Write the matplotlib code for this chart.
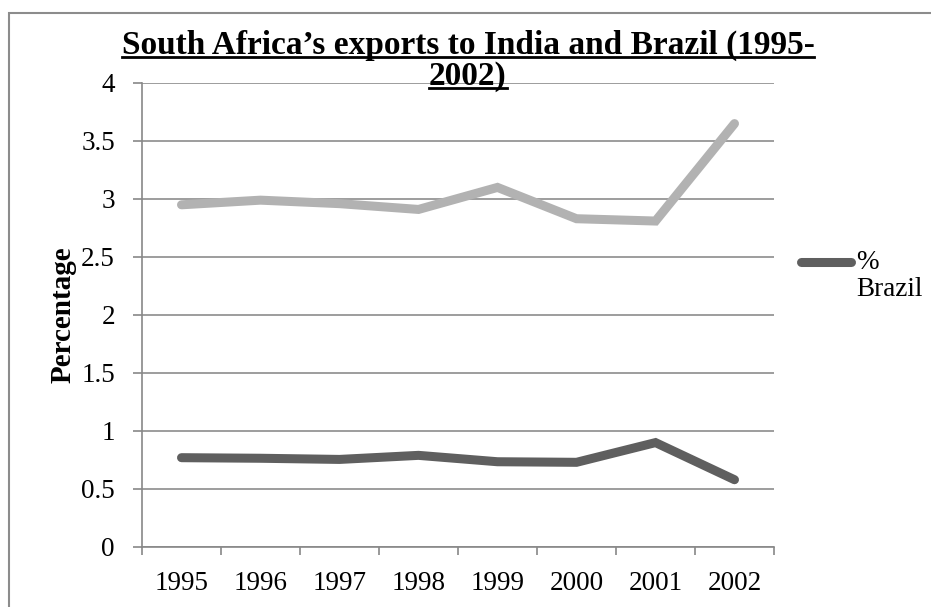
import numpy as np
import matplotlib
matplotlib.use('Agg')
import matplotlib.pyplot as plt
from matplotlib.lines import Line2D
from matplotlib.patches import Rectangle

# data
years = ['1995', '1996', '1997', '1998', '1999', '2000', '2001', '2002']
india = [2.95, 2.99, 2.96, 2.91, 3.10, 2.83, 2.81, 3.65]
brazil = [0.77, 0.765, 0.755, 0.79, 0.735, 0.73, 0.90, 0.58]
yticks = [0, 0.5, 1, 1.5, 2, 2.5, 3, 3.5, 4]

plt.rcParams['font.family'] = ['Liberation Serif', 'DejaVu Serif']

fig = plt.figure(figsize=(9.31, 6.07), dpi=100)
W, H = 931, 607
ax = fig.add_axes([142 / W, 1 - 547 / H, (774 - 142) / W, (547 - 83) / H])

x = np.arange(len(years))
ax.plot(x, india, color='#b2b2b2', lw=6.5, solid_capstyle='round', solid_joinstyle='miter')
ax.plot(x, brazil, color='#5f5f5f', lw=6.5, solid_capstyle='round', solid_joinstyle='miter')

ax.set_xlim(-0.5, len(years) - 0.5)
ax.set_ylim(0, 4)
ax.set_yticks(yticks)
ax.set_yticklabels(['%g' % v for v in yticks])
ax.set_xticks(x)
ax.set_xticklabels(years)
ax.set_xticks(np.arange(len(years) + 1) - 0.5, minor=True)
ax.tick_params(axis='x', which='major', length=0, pad=17, labelsize=19.5)
ax.tick_params(axis='x', which='minor', length=6, direction='out', color='#888888', width=1.2)
ax.tick_params(axis='y', length=6.5, direction='out', color='#888888', width=1.2, pad=13,
               labelsize=19.5)

ax.grid(axis='y', color='#8c8c8c', lw=1.2)
ax.set_axisbelow(True)
for s in ['top', 'right']:
    ax.spines[s].set_visible(False)
for s in ['left', 'bottom']:
    ax.spines[s].set_color('#888888')
    ax.spines[s].set_linewidth(1.2)

fig.text(63 / W, 1 - 315 / H, 'Percentage', rotation=90, ha='center', va='center',
         fontsize=21, fontweight='bold')

# legend (only the Brazil entry is shown in the reference)
fig.add_artist(Line2D([801 / W, 851 / W], [1 - 262 / H, 1 - 262 / H], color='#5f5f5f',
                      lw=6.5, solid_capstyle='round', transform=fig.transFigure))
fig.text(856 / W, 1 - 250 / H, '%\nBrazil', ha='left', va='top', fontsize=19.5,
         linespacing=1.1)

# title with underline, two lines
t1 = fig.text(468 / W, 1 - 45 / H, 'South Africa\u2019s exports to India and Brazil (1995-',
              ha='center', va='center', fontsize=24, fontweight='bold')
t2 = fig.text(468 / W, 1 - 76 / H, '2002)', ha='center', va='center',
              fontsize=24, fontweight='bold')
fig.canvas.draw()
r = fig.canvas.get_renderer()
for t in (t1, t2):
    bb = t.get_window_extent(r)
    yy = bb.y0 + 4
    fig.add_artist(Line2D([bb.x0 / W, bb.x1 / W], [yy / H, yy / H], color='black', lw=2,
                          transform=fig.transFigure))

# outer chart border
fig.add_artist(Rectangle((9 / W, -0.1), 1.2, 1 - 13 / H + 0.1, fill=False,
                         ec='#8c8c8c', lw=1.5, transform=fig.transFigure))

fig.savefig('out.png', dpi=100)
